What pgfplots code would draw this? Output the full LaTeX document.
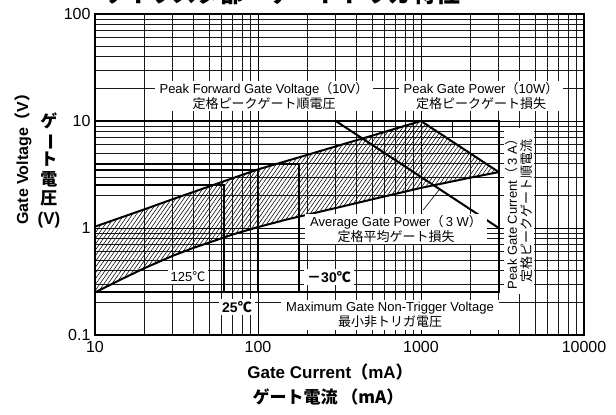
\documentclass[border=0pt]{standalone}
\usepackage{fontspec}
\setmainfont{Liberation Sans}
\newfontfamily\jp{Noto Sans CJK JP}
\usepackage{graphicx}
\usepackage{pgfplots}
\pgfplotsset{compat=1.18}
\usetikzlibrary{patterns.meta}
\newcommand\lp{{\jp （}}
\newcommand\rp{{\jp ）}}
\begin{document}
\begin{tikzpicture}
\begin{axis}[
  at={(0pt,0pt)}, anchor=south west,
  scale only axis, width=489pt, height=321pt,
  xmode=log, ymode=log,
  xmin=10, xmax=10000, ymin=0.1, ymax=100,
  clip=false,
  grid=both,
  major grid style={black, line width=1.0pt},
  minor grid style={black!90, line width=0.7pt},
  axis line style={black, line width=1.3pt},
  major tick length=0pt, minor tick length=0pt,
  xtick={10,100,1000,10000}, xticklabels={10,100,1000,10000},
  ytick={0.1,1,10,100}, yticklabels={0.1,1,10,100},
  minor xtick={20,30,40,50,60,70,80,90,200,300,400,500,600,700,800,900,2000,3000,4000,5000,6000,7000,8000,9000},
  minor ytick={0.2,0.3,0.4,0.5,0.6,0.7,0.8,0.9,2,3,4,5,6,7,8,9,20,30,40,50,60,70,80,90},
  tick label style={font=\fontsize{16}{16}\selectfont},
  xticklabel style={yshift=-3pt},
  yticklabel style={xshift=-1pt},
]
% hatched safe-gate-drive region
\addplot[draw=none, pattern={Lines[angle=55,distance=3.3pt,line width=0.55pt]}] coordinates {
 (10,0.25)(15,0.34)(20,0.42)(30,0.55)(40,0.65)(50,0.73)(70,0.87)(100,1.02)(150,1.2)(200,1.33)(318,1.57)(500,1.85)(1000,2.37)(2000,2.95)(3000,3.33)
 (1000,10)
 (500,7.29)(300,5.79)(178,4.57)(100,3.53)(62,2.74)(50,2.44)(30,1.86)(20,1.49)(10,1.03)
} -- cycle;
% lower curve
\addplot[black, line width=2pt] coordinates {
 (10,0.25)(15,0.34)(20,0.42)(30,0.55)(40,0.65)(50,0.73)(70,0.87)(100,1.02)(150,1.2)(200,1.33)(318,1.57)(500,1.85)(1000,2.37)(2000,2.95)(3000,3.33)};
% upper curve
\addplot[black, line width=2pt] coordinates {
 (10,1.03)(20,1.49)(30,1.86)(50,2.44)(62,2.74)(100,3.53)(178,4.57)(300,5.79)(500,7.29)(1000,10)};
% peak gate power 10 W
\addplot[black, line width=2pt] coordinates {(1000,10)(3000,3.333)};
% average gate power 3 W
\addplot[black, line width=2pt] coordinates {(300,10)(3000,1.0)};
% rating frame: 10 V, 3 A, 0.25 V
\addplot[black, line width=2pt] coordinates {(10,10)(3000,10)(3000,0.25)(10,0.25)};
% temperature limits
\addplot[black, line width=2pt] coordinates {(10,2.5)(62,2.5)(62,0.25)};
\addplot[black, line width=2pt] coordinates {(10,3.5)(100,3.5)(100,0.25)};
\addplot[black, line width=2pt] coordinates {(10,4.0)(178,4.0)(178,0.25)};
% leaders
\draw[black, line width=0.6pt] (axis cs:1030,1.47) -- (axis cs:1300,2.3);
\draw[black, line width=0.6pt] (axis cs:1550,10) -- (axis cs:1550,6.9);
\end{axis}
% annotation boxes
\tikzset{lab/.style={fill=white, inner xsep=5pt, inner ysep=2pt, align=center,
  font=\fontsize{13}{14.5}\selectfont}}
\node[lab] at (169pt,239pt) {Peak Forward Gate Voltage\lp 10V\rp\\{\jp 定格ピークゲート順電圧}};
\node[lab] at (386pt,239pt) {Peak Gate Power\lp 10W\rp\\{\jp 定格ピークゲート損失}};
\node[lab] at (301pt,106pt) {Average Gate Power\lp\,3 W\rp\\{\jp 定格平均ゲート損失}};
\node[lab] at (295pt,20pt) {Maximum Gate Non-Trigger Voltage\\{\jp 最小非トリガ電圧}};
\node[lab, rotate=90] at (424pt,124pt) {Peak Gate Current\lp\,3 A\rp\\{\jp 定格ピークゲート順電流}};
\node[lab, inner xsep=3pt] at (93pt,58pt) {125{\jp ℃}};
\node[lab, inner xsep=3pt, font=\fontsize{14}{14}\selectfont\bfseries] at (234pt,58pt) {{\jp\bfseries －}30{\jp\bfseries ℃}};
\node[lab, inner xsep=3pt, font=\fontsize{14}{14}\selectfont\bfseries] at (142pt,28pt) {25{\jp\bfseries ℃}};
% title (top is cut off in the reference)
\node[anchor=base, font=\jp\bfseries\fontsize{24}{24}\selectfont] at (186pt,332pt) {サイリスタ部　ゲートトリガ特性};
% axis titles
\node[rotate=90, font=\bfseries\fontsize{16}{16}\selectfont] at (-72pt,180pt) {Gate Voltage\lp V\rp};
\node[anchor=center, align=center, font=\jp\bfseries\fontsize{17}{19.4}\selectfont] at (-46pt,165pt)
  {ゲ\\\rotatebox[origin=c]{-90}{ー}\\ト\\電\\圧\\{\rmfamily\bfseries(V)}};
\node[font=\bfseries\fontsize{17}{17}\selectfont] at (235pt,-37pt) {Gate Current\lp mA\rp};
\node[font=\jp\bfseries\fontsize{17}{17}\selectfont] at (233pt,-62pt) {ゲート電流 （mA）};
\pgfresetboundingbox
\path[use as bounding box] (-95pt,-80pt) rectangle (521pt,335pt);
\end{tikzpicture}
\end{document}
